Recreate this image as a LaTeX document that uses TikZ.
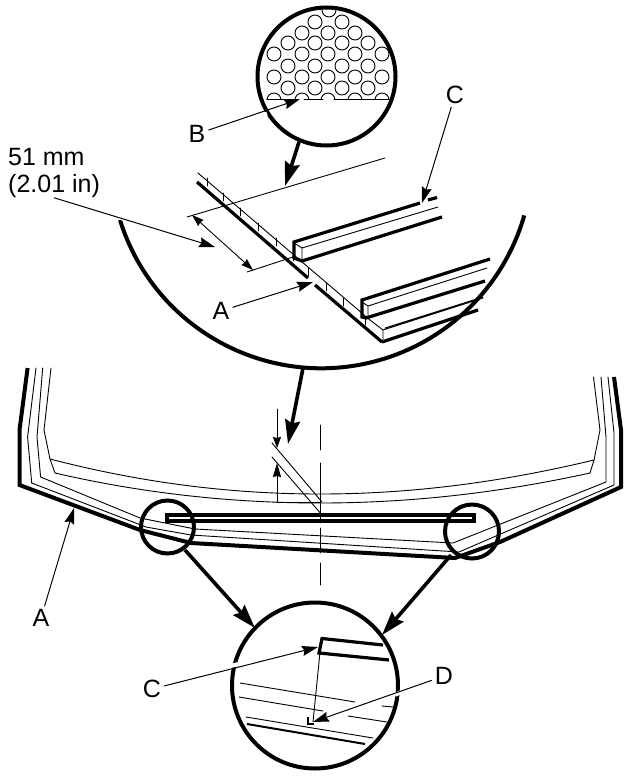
\documentclass[tikz,border=0pt]{standalone}
\usepackage{fontspec}
\setmainfont{Liberation Sans}
\usetikzlibrary{arrows.meta}
\tikzset{
  thin line/.style={line width=0.9pt,line cap=round,line join=round},
  bold line/.style={line width=3.2pt,line cap=butt,line join=miter},
  med line/.style={line width=2pt},
  ring/.style={line width=4pt},
  leader/.style={line width=1pt,-{Stealth[length=16pt,width=10pt,inset=2pt]}},
  callout/.style={line width=3.6pt,-{Stealth[length=24pt,width=15pt,inset=3pt]}},
  halo/.style={white,line width=4pt},
  lbl/.style={inner sep=3pt,font=\fontsize{25}{25}\selectfont},
  dimhead/.style={line width=0.9pt,{Stealth[length=12pt,width=8pt,inset=1pt]}-{Stealth[length=12pt,width=8pt,inset=1pt]}}
}
\begin{document}
\begin{tikzpicture}[x=1pt,y=-1pt]
\useasboundingbox (0,0) rectangle (640,778);
\fill[white] (0,0) rectangle (640,778);

% --- labels
\node[lbl] (lblB) at (197,134) {B};
\node[lbl] (lblCtop) at (455,95) {C};
\node[lbl] (lblAtop) at (221,311) {A};
\node[lbl,inner sep=0pt,align=left,anchor=north west] (lblDim) at (8,148) {51 mm\\[2pt](2.01 in)};
\node[lbl] (lblAleft) at (41,618) {A};
\node[lbl] (lblCbot) at (152,689) {C};
\node[lbl] (lblD) at (444,676) {D};

% --- anchor points for connectors
\coordinate (tipB) at (300,99);
\coordinate (tipCtop) at (422,203);
\coordinate (tipAtop) at (313,282);
\coordinate (tipDim) at (215,247);
\coordinate (tipAleft) at (74,508);
\coordinate (tipCbot) at (318,647);
\coordinate (tipD) at (313,722);
\coordinate (topRingOut) at (299,142);
\coordinate (topRingTip) at (285,186);
\coordinate (bigArcOut) at (303,368);
\coordinate (bigArcTip) at (288,444);
\coordinate (leftRingOut) at (185,550);
\coordinate (leftRingTip) at (255,628);
\coordinate (rightRingOut) at (451,555);
\coordinate (rightRingTip) at (382,635);

% --- honeycomb detail
\begin{scope}
  \clip (326.5,76.5) circle[radius=68];
  \clip (250,0) rectangle (400,99.3);
  \foreach \cx/\cy in {329/10,315/22,342/22,
    302/33,328/33,355/33,
    288/43,315/43,342/43,368/43,
    274/54,302/54,328/54,355/54,382/54,
    288/66,315/66,342/66,368/66,
    274/77,302/77,328/77,355/77,382/77,
    288/88,315/88,342/88,368/88,
    274/100,302/100,328/100,355/100,382/100}
    \draw[thin line] (\cx,\cy) circle[radius=7];
\end{scope}
\draw[thin line] (267,99.3) -- (288,99.3) (304,99.3) -- (323,99.3) (334,99.3) -- (389,99.3);
\node[circle,draw,ring,minimum size=138pt,inner sep=0pt] (topRing) at (326.5,76.5) {};

% --- large lens arc
\draw[ring] (120,220) arc[start angle=162.7,end angle=16,radius=211];

% --- panel section
\draw[thin line] (198,173) -- (370,320) -- (383,330) -- (383,342);
\draw[bold line] (197,182) -- (308,278) (315,285) -- (382,342);
\foreach \tx/\ty in {207/178,223/193,240/208,258/223,276/238,293/253,308/268,326/283,343/298,365/317}
  \draw[thin line] (\tx,\ty) -- (\tx,\ty+8);
% dimension lines
\draw[thin line] (385,158) -- (187,217);
\draw[thin line] (247,272) -- (293,257);
\draw[dimhead] (192,215) -- (253,270);

% upper rail
\draw[bold line] (420,203) -- (294,242) -- (294,258) -- (302,261) -- (442,217);
\draw[thin line] (294,243) -- (302,248) -- (302,261);
\draw[thin line] (302,248) -- (438,207);
\draw[bold line] (428,200) -- (437,197.5);

% lower rail
\draw[bold line] (490,259) -- (362,300) -- (362,317) -- (366,318) -- (485,281);
\draw[thin line] (362,302) -- (368,306) -- (368,319);
\draw[thin line] (368,306) -- (487,268);
\draw[thin line] (383,330) -- (483,298) (385,328) -- (483,297);
\draw[bold line] (382,342) -- (478,310);

% --- vehicle glass outlines
\draw[ring] (27.6,368) -- (19.5,430) -- (19.5,485) -- (140,530) -- (191,543) -- (455,558) -- (500,542) -- (621,487) -- (621,430) -- (614,377);
\draw[thin line] (36,368) -- (27.6,437) -- (31.7,483) -- (146,527) -- (191,535) -- (459,552) -- (614,485) -- (614,433) -- (608,377);
\draw[thin line] (42.7,368) -- (37,437) -- (40.6,477) -- (140,518) -- (195,529) -- (453,543) -- (606,482) -- (606,437) -- (601,377);
\draw[thin line] (51,368) -- (44,430) -- (50,459) -- (55,473);
\draw[thin line] (593.5,377) -- (600,430) -- (594,460) -- (590,473);
\draw[thin line] (50,459) .. controls (150,485) and (240,494) .. (320,494) .. controls (400,494) and (490,485) .. (594,460);
\draw[thin line] (55,473) .. controls (150,495) and (240,503) .. (320,503) .. controls (400,503) and (490,495) .. (590,473);

% centre line and dimension
\draw[thin line] (320.5,425) -- (320.5,450) (320.5,463) -- (320.5,517) (320.5,528) -- (320.5,553) (320.5,563) -- (320.5,585);
\draw[thin line] (272,443) -- (322,502) (272,457) -- (322,515);
\draw[thin line] (277,502) -- (320,502);
\draw[thin line,-{Stealth[length=11pt,width=8pt,inset=1pt]}] (277,409) -- (277,448);
\draw[thin line,-{Stealth[length=14pt,width=8pt,inset=1pt]}] (277,502) -- (277,463);

% strip
\draw[bold line,line width=3.6pt,fill=white] (167,515) -- (474,515) -- (474,521) -- (167,521) -- cycle;
\draw[thin line] (320.5,513) -- (320.5,523);

% detail rings
\node[circle,draw,ring,minimum size=53pt,inner sep=0pt] (leftRing) at (167.5,527) {};
\node[circle,draw,ring,minimum size=54pt,inner sep=0pt] (rightRing) at (472,531.5) {};
\node[circle,draw,ring,minimum size=166pt,inner sep=0pt] (botRing) at (315,685.5) {};

% bottom detail content
\draw[bold line] (383,645) -- (322,638.5) -- (319,653) -- (389,660);
\draw[thin line] (320,652) -- (313,722);
\draw[med line] (308,717) -- (308,724) -- (314,724);
\draw[thin line] (240,683) -- (355,702) (382,706) -- (393,707);
\draw[thin line] (239,697) -- (323,711) (348,716) -- (387,722);
\draw[thin line] (246,717) -- (373,738);
\draw[med line] (247,724) -- (365,744);

% --- connectors
\draw[halo] (254.5,118) -- (267,113.7);
\draw[leader] (lblB) -- (tipB);
\draw[leader] (lblCtop) -- (tipCtop);
\draw[leader] (lblAtop) -- (tipAtop);
\draw[halo] (115,216) -- (124,219);
\draw[leader] (lblDim.south) -- (tipDim);
\draw[leader] (lblAleft) -- (tipAleft);
\draw[halo] (231,666) -- (238,664);
\draw[leader] (lblCbot) -- (tipCbot);
\draw[halo] (395,695) -- (401,692);
\draw[leader] (lblD) -- (tipD);
\draw[callout] (topRingOut) -- (topRingTip);
\draw[callout] (bigArcOut) -- (bigArcTip);
\draw[callout] (leftRingOut) -- (leftRingTip);
\draw[callout] (rightRingOut) -- (rightRingTip);
\end{tikzpicture}
\end{document}
